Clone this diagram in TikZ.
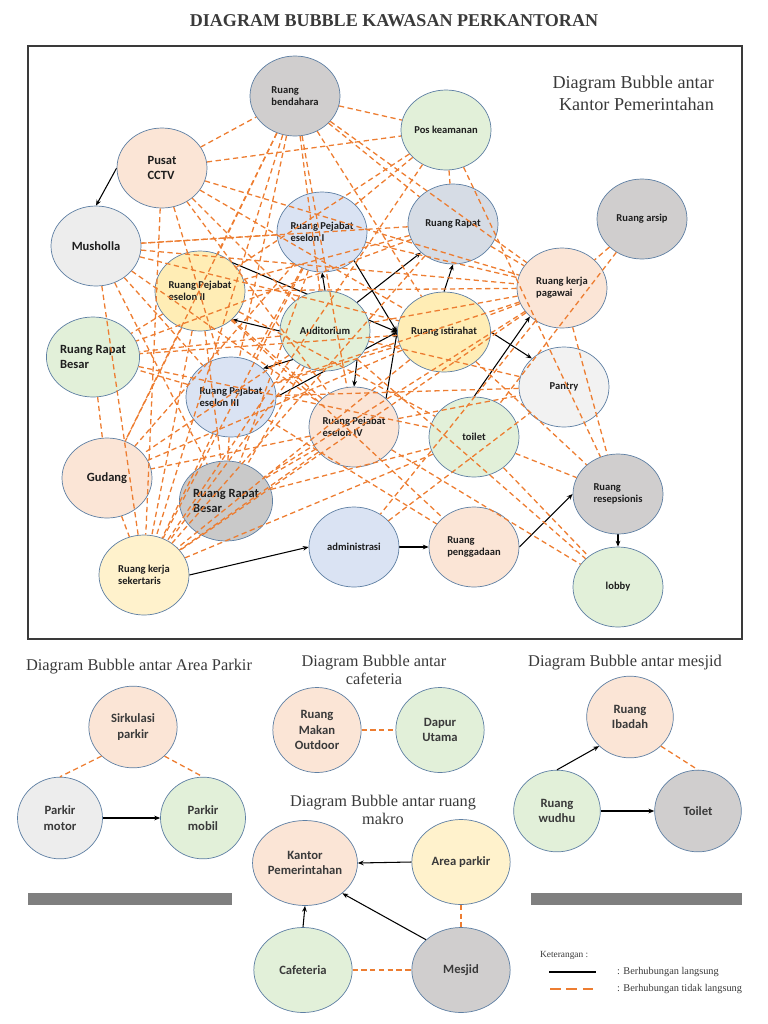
\documentclass[tikz,border=0pt]{standalone}
\usepackage{fontspec}
\setmainfont{Liberation Serif}
\newfontfamily\bubblefont{Carlito}
\usetikzlibrary{arrows.meta,shapes.geometric,backgrounds}

\definecolor{rim}{HTML}{5E7FA3}
\definecolor{peach}{HTML}{FBE5D6}
\definecolor{mint}{HTML}{E2F0D9}
\definecolor{sky}{HTML}{DAE3F3}
\definecolor{slate}{HTML}{D6DCE5}
\definecolor{cream}{HTML}{FFF2CC}
\definecolor{butter}{HTML}{FFEDB5}
\definecolor{ash}{HTML}{D0CECE}
\definecolor{darkash}{HTML}{C9C9C9}
\definecolor{smoke}{HTML}{EDEDED}
\definecolor{paper}{HTML}{F2F2F2}
\definecolor{dashorange}{HTML}{ED7D31}
\definecolor{ink}{HTML}{1E1E1E}
\definecolor{inkgray}{HTML}{3A3A3A}
\definecolor{bar}{HTML}{7F7F7F}

\begin{document}
\begin{tikzpicture}[x=0.03cm, y=-0.03cm,
    bubble/.style={ellipse, draw=rim, line width=0.6pt, minimum width=2.7cm, minimum height=2.4cm,
      inner sep=0pt, align=left, text=ink, font=\bubblefont\bfseries\fontsize{9}{10.5}\selectfont},
    bigtext/.style={font=\bubblefont\bfseries\fontsize{10.7}{13}\selectfont},
    sub/.style={bubble, minimum width=2.65cm, minimum height=2.45cm, align=center, text=inkgray,
      font=\bubblefont\bfseries\fontsize{10.8}{13}\selectfont},
    wide/.style={minimum width=2.95cm, minimum height=2.55cm},
    tie/.style={draw=dashorange, line width=1.1pt, dash pattern=on 4.5pt off 3pt},
    link/.style={draw=black, line width=0.9pt, -{Stealth[length=5pt,width=4pt]}},
    heading/.style={font=\fontsize{14}{16}\selectfont, text=inkgray, align=center}
  ]
  \useasboundingbox (0,0) rectangle (768,1024);

  % Title and frame
  \node[font=\bfseries\fontsize{15.4}{18}\selectfont, text=inkgray] (title) at (394,21)
    {DIAGRAM BUBBLE KAWASAN PERKANTORAN};
  \draw[draw=inkgray, line width=1.9pt] (28,46) rectangle (742,639);
  \node[font=\fontsize{15.5}{18.8}\selectfont, text=inkgray, align=right, anchor=east] (kptitle)
    at (718,93) {Diagram Bubble antar\\Kantor Pemerintahan};

  % Kantor pemerintahan: bubbles
  \node[bubble, fill=ash] (bend) at (295,96) {Ruang\\bendahara};
  \node[bubble, bigtext, fill=peach] (cctv) at (162,168) {Pusat\\CCTV};
  \node[bubble, bigtext, fill=smoke] (mush) at (96,246) {Musholla};
  \node[bubble, fill=sky] (esA) at (322,232) {Ruang Pejabat\\eselon I};
  \node[bubble, fill=butter] (esB) at (200,291) {Ruang Pejabat\\eselon II};
  \node[bubble, fill=mint] (aud) at (325,331) {Auditorium};
  \node[bubble, fill=mint] (pos) at (446,130) {Pos keamanan};
  \node[bubble, fill=slate] (rapat) at (453,224) {Ruang Rapat};
  \node[bubble, fill=ash] (arsip) at (642,219) {Ruang arsip};
  \node[bubble, fill=peach] (pgw) at (562,288) {Ruang kerja\\pagawai};
  \node[bubble, fill=butter] (ist) at (444,332) {Ruang istirahat};
  \node[bubble, fill=paper] (pantry) at (564,387) {Pantry};
  \node[bubble, fill=mint] (toilet) at (474,437) {toilet};
  \node[bubble, fill=ash] (resep) at (618,494) {Ruang\\resepsionis};
  \node[bubble, fill=mint] (lobby) at (618,587) {lobby};
  \node[bubble, fill=peach] (pengg) at (474,547) {Ruang\\penggadaan};
  \node[bubble, fill=sky] (adm) at (354,547) {administrasi};
  \node[bubble, fill=peach] (esD) at (354,427) {Ruang Pejabat\\eselon IV};
  \node[bubble, fill=sky] (esC) at (231,397) {Ruang Pejabat\\eselon III};
  \node[bubble, bigtext, fill=mint] (rrb) at (93,357) {Ruang Rapat\\Besar};
  \node[bubble, bigtext, fill=peach] (gud) at (107,478) {Gudang};
  \node[bubble, bigtext, fill=darkash] (rrbg) at (226,501) {Ruang Rapat\\Besar};
  \node[bubble, fill=cream] (sekr) at (144,575) {Ruang kerja\\sekertaris};

  % direct links (behind the bubbles)
  \begin{scope}[on background layer]
    \draw[link] (cctv.west) -- (mush.north);
    \draw[link] (aud.north) -- (esA.south);
    \draw[link] (aud.west) -- (esB.south east);
    \draw[link] (aud.south west) -- (esC.north east);
    \draw[link] (aud.south east) -- (esD.north);
    \draw[link] (aud.north east) -- (rapat.south west);
    \draw[link] (esB.north east) -- (ist.west);
    \draw[link] (esA.south east) -- (ist.west);
    \draw[link] (esC.east) -- (ist.west);
    \draw[link] (esD.north east) -- (ist.west);
    \draw[link] (ist.north) -- (rapat.south);
    \draw[link] (ist.east) -- (pantry.north west);
    \draw[link] (toilet.north) -- (pgw.south west);
    \draw[link] (sekr.east) -- (adm.west);
    \draw[link] (adm.east) -- (pengg.west);
    \draw[link] (pengg.east) -- (resep.west);
    \draw[link] (resep.south) -- (lobby.north);
  \end{scope}

  % indirect links
  \foreach \a/\b in {cctv/bend, cctv/pos, cctv/pgw, cctv/ist, cctv/sekr, cctv/esC, cctv/esD, cctv/aud,
      bend/pos, bend/pgw, bend/ist, bend/esB, bend/esC, bend/sekr, bend/gud, bend/aud, bend/esD, bend/rapat,
      mush/esA, mush/pgw, mush/ist, mush/esD, mush/sekr, mush/rrbg, mush/esC,
      pos/esA, pos/rapat, pos/esB, pos/resep, pos/sekr,
      rapat/pgw, rapat/esB, rapat/mush, rapat/sekr, rapat/rrb,
      esA/pgw, esA/sekr, esA/gud, esA/rrbg, esA/esC,
      arsip/pgw, arsip/toilet,
      pgw/esB, pgw/aud, pgw/esC, pgw/ist, pgw/resep, pgw/sekr, pgw/rrbg, pgw/adm,
      ist/resep, ist/esC, ist/sekr, ist/rrb, ist/gud,
      esB/rrb, esB/gud, esB/sekr, esB/esD, esB/pengg, esB/toilet, esB/rrbg,
      aud/rrb, aud/sekr, aud/gud, aud/pantry, aud/lobby, aud/rrbg,
      esC/rrb, esC/rrbg, esC/pantry, esC/sekr, esC/pengg,
      esD/gud, esD/sekr, esD/lobby, esD/pantry, esD/rrbg,
      toilet/resep, toilet/lobby, toilet/sekr, adm/pantry,
      rrb/gud, rrb/toilet, gud/sekr, rrbg/toilet}
    \draw[tie] (\a) -- (\b);

  % Area parkir
  \node[heading] (hparkir) at (139,667) {Diagram Bubble antar Area Parkir};
  \node[sub, fill=peach] (sirk) at (133,727) {Sirkulasi\\parkir};
  \node[sub, fill=smoke, minimum width=2.55cm] (motor) at (60,818) {Parkir\\motor};
  \node[sub, fill=mint, minimum width=2.55cm] (mobil) at (203,818) {Parkir\\mobil};
  \draw[link] (motor.east) -- (mobil.west);
  \draw[tie] (sirk.south west) -- (motor.north);
  \draw[tie] (sirk.south east) -- (mobil.north);
  \fill[bar] (28,893) rectangle (232,905);

  % Cafeteria
  \node[heading, font=\fontsize{13.9}{15.4}\selectfont] (hcafe) at (374,670) {Diagram Bubble antar\\cafeteria};
  \node[sub, fill=peach, minimum height=2.55cm] (makan) at (317,730) {Ruang\\Makan\\Outdoor};
  \node[sub, fill=mint, minimum height=2.55cm] (dapur) at (440,730) {Dapur\\Utama};
  \draw[tie] (makan.east) -- (dapur.west);

  % Ruang makro
  \node[heading, font=\fontsize{13.9}{15.4}\selectfont] (hmakro) at (383,810) {Diagram Bubble antar ruang\\makro};
  \node[sub, wide, fill=peach] (kantor) at (305,863) {Kantor\\Pemerintahan};
  \node[sub, wide, fill=cream] (area) at (461,862) {Area parkir};
  \node[sub, wide, fill=mint] (cafe) at (303,970) {Cafeteria};
  \node[sub, wide, fill=ash] (mesjid) at (461,970) {Mesjid};
  \draw[link] (area.west) -- (kantor.east);
  \draw[link] (mesjid.north west) -- (kantor.south east);
  \draw[link] (cafe.north) -- (kantor.south);
  \draw[tie] (cafe.east) -- (mesjid.west);
  \draw[tie] (area.south) -- (mesjid.north);

  % Mesjid
  \node[heading] (hmesjid) at (625,663) {Diagram Bubble antar mesjid};
  \node[sub, fill=peach, minimum width=2.6cm] (ibadah) at (630,717) {Ruang\\Ibadah};
  \node[sub, fill=mint, minimum width=2.6cm] (wudhu) at (557,811) {Ruang\\wudhu};
  \node[sub, fill=ash, minimum width=2.6cm] (wc) at (698,811) {Toilet};
  \draw[link] (wudhu.north) -- (ibadah.south west);
  \draw[link] (wudhu.east) -- (wc.west);
  \draw[tie] (ibadah.south east) -- (wc.north);
  \fill[bar] (531,893) rectangle (742,905);

  % Keterangan
  \node[anchor=west, font=\fontsize{8}{9}\selectfont, text=inkgray] (ket) at (536,955) {Keterangan :};
  \coordinate (s1) at (549,972);
  \coordinate (s2) at (596,972);
  \coordinate (d1) at (550,989);
  \coordinate (d2) at (597,989);
  \draw[line width=1.1pt] (s1) -- (s2);
  \draw[draw=dashorange, line width=1.9pt, dash pattern=on 9pt off 5pt] (d1) -- (d2);
  \node[anchor=west, font=\fontsize{8.8}{10}\selectfont, text=inkgray] (lsolid) at (613,972) {: Berhubungan langsung};
  \node[anchor=west, font=\fontsize{8.8}{10}\selectfont, text=inkgray] (ldash) at (613,989) {: Berhubungan tidak langsung};
\end{tikzpicture}
\end{document}
